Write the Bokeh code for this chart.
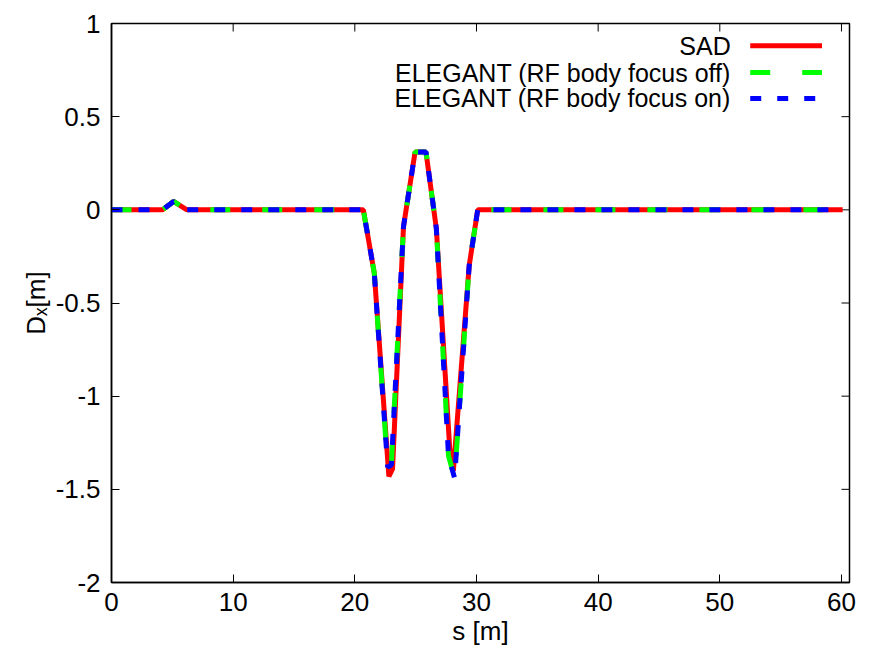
import math
from bokeh.plotting import figure
from bokeh.models import Label, FixedTicker, Range1d
from bokeh.embed import file_html
from bokeh.resources import INLINE

# ---- data ----
s_sad = [0, 2, 4.2, 5.1, 6.2, 10, 15, 20, 20.7, 21.6, 22.8, 23.1, 24.0, 24.95,
         25.85, 26.7, 27.8, 28.1, 29.4, 30.1, 35, 40, 45, 50, 55, 60.1]
dx_sad = [0, 0, 0, 0.045, 0, 0, 0, 0, 0, -0.34, -1.43, -1.39, -0.09, 0.31,
          0.31, -0.10, -1.28, -1.40, -0.30, 0, 0, 0, 0, 0, 0, 0]

s_ele = [0, 2, 4.2, 5.1, 6.2, 10, 15, 20, 20.7, 21.6, 22.7, 23.0, 24.0, 24.95,
         25.85, 26.7, 27.7, 28.2, 29.4, 30.1, 35, 40, 45, 50, 55, 60.1]
dx_ele_off = [0, 0, 0, 0.045, 0, 0, 0, 0, 0, -0.34, -1.38, -1.37, -0.09, 0.31,
              0.31, -0.10, -1.32, -1.44, -0.30, 0, 0, 0, 0, 0, 0, 0]
dx_ele_on = [0, 0, 0, 0.045, 0, 0, 0, 0, 0, -0.34, -1.38, -1.37, -0.09, 0.31,
             0.31, -0.10, -1.32, -1.44, -0.30, 0, 0, 0, 0, 0, 0, 0]

series_names = ["SAD", "ELEGANT (RF body focus off)", "ELEGANT (RF body focus on)"]
x_ticks = [0, 10, 20, 30, 40, 50, 60]
y_ticks = [1, 0.5, 0, -0.5, -1, -1.5, -2]
y_tick_labels = ["1", "0.5", "0", "-0.5", "-1", "-1.5", "-2"]

FONT = "Liberation Sans"
FS = "26px"
X_MAX, Y_MIN, Y_MAX = 60.66, -2, 1

p = figure(width=878, height=648, output_backend="svg", toolbar_location=None,
           x_range=Range1d(0, X_MAX), y_range=Range1d(Y_MIN, Y_MAX),
           min_border_left=111, min_border_right=29, min_border_top=23,
           min_border_bottom=64)
p.xgrid.visible = False
p.ygrid.visible = False
p.outline_line_color = "black"
p.outline_line_width = 1.5
p.background_fill_color = "white"
p.border_fill_color = "white"

def style_axis(ax, ticks):
    ax.ticker = FixedTicker(ticks=ticks)
    ax.major_tick_in = 8
    ax.major_tick_out = 0
    ax.minor_tick_line_color = None
    ax.major_tick_line_color = "black"
    ax.axis_line_color = "black"
    ax.axis_line_width = 1.5
    ax.major_label_text_font = FONT
    ax.major_label_text_color = "black"
    ax.major_label_text_font_size = FS
    ax.major_label_standoff = 10

style_axis(p.xaxis[0], x_ticks)
style_axis(p.yaxis[0], y_ticks)
p.yaxis[0].major_label_overrides = {t: l for t, l in zip(y_ticks, y_tick_labels)}
p.yaxis[0].major_label_standoff = 11

p.xaxis[0].axis_label = "s [m]"
p.yaxis[0].axis_label = "Dₓ[m]"
for ax in (p.xaxis[0], p.yaxis[0]):
    ax.axis_label_text_font = FONT
    ax.axis_label_text_font_size = FS
    ax.axis_label_text_font_style = "normal"
    ax.axis_label_text_color = "black"
p.xaxis[0].axis_label_standoff = 2
p.yaxis[0].axis_label_standoff = 2

# mirrored inward ticks on the top and right frame edges (gnuplot style)
p.ray(x=x_ticks, y=[Y_MAX] * len(x_ticks), length=8, length_units="screen",
      angle=-math.pi / 2, line_color="black", line_width=1)
p.ray(x=[X_MAX] * len(y_ticks), y=y_ticks, length=8, length_units="screen",
      angle=math.pi, line_color="black", line_width=1)

LW = 5
p.line(s_sad, dx_sad, line_color="#ff0000", line_width=LW)
p.line(s_ele, dx_ele_off, line_color="#00ff00", line_width=LW, line_dash="20 32")
p.line(s_ele, dx_ele_on, line_color="#0000ff", line_width=LW, line_dash="11 16")

# ---- gnuplot-style legend (text right-aligned, sample to its right) ----
leg_text_x = 50.9
leg_x0, leg_x1 = 52.5, 58.4
leg_rows = [0.881, 0.737, 0.598]
leg_styles = [("#ff0000", "solid"), ("#00ff00", "20 32"), ("#0000ff", "11 16")]
for name, yy, (col, dash) in zip(series_names, leg_rows, leg_styles):
    p.add_layout(Label(x=leg_text_x, y=yy, text=name, text_align="right",
                       text_baseline="middle", text_font=FONT,
                       text_font_size="25px", text_color="black"))
    p.line([leg_x0, leg_x1], [yy, yy], line_color=col, line_width=LW,
           line_dash=dash)

open("out.html", "w").write(file_html(p, INLINE))
